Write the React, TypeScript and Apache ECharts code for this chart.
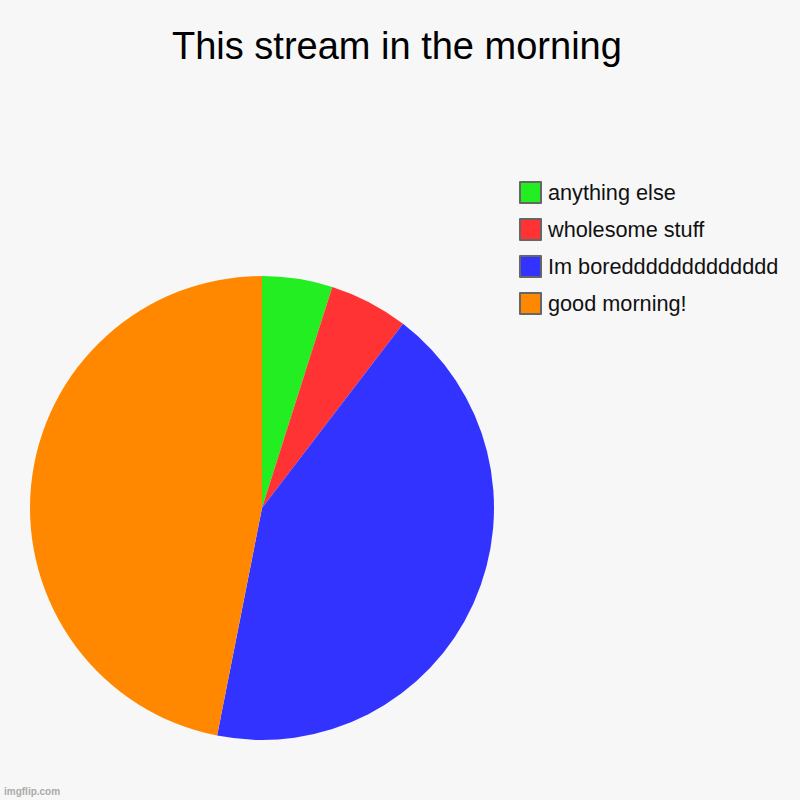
import React, { useEffect, useRef } from "react";
import * as echarts from "echarts";

const titleText = "This stream in the morning";
const categories = ["anything else", "wholesome stuff", "Im boreddddddddddddd", "good morning!"];
const values = [4.9, 5.5, 42.7, 46.9];
const colors = ["#22ee22", "#ff3333", "#3333ff", "#ff8800"];

export default function App() {
  const ref = useRef<HTMLDivElement>(null);
  useEffect(() => {
    if (!ref.current) return;
    const chart = echarts.init(ref.current, null, { renderer: "svg" });
    chart.setOption({
      animation: false,
      backgroundColor: "#f7f7f7",
      title: {
        text: titleText,
        left: 172,
        top: 27,
        padding: 0,
        textStyle: { fontFamily: "Liberation Sans, Arial, sans-serif", fontSize: 38, fontWeight: "normal", color: "#000" },
      },
      legend: {
        orient: "vertical",
        left: 519,
        top: 181,
        padding: 0,
        itemWidth: 21,
        itemHeight: 21,
        itemGap: 14,
        icon: "rect",
        data: categories,
        itemStyle: { borderColor: "#666666", borderWidth: 2 },
        textStyle: { fontFamily: "Liberation Sans, Arial, sans-serif", fontSize: 21.7, color: "#111", padding: [0, 0, 0, 2] },
        selectedMode: false,
      },
      graphic: [
        {
          type: "text",
          left: 4,
          top: 786,
          style: { text: "imgflip.com", fill: "#aaaaaa", font: "bold 10px Liberation Sans, Arial, sans-serif" },
        },
      ],
      series: [
        {
          type: "pie",
          center: [262, 508],
          radius: 232,
          startAngle: 90,
          clockwise: true,
          label: { show: false },
          labelLine: { show: false },
          silent: true,
          data: categories.map((name, i) => ({ name, value: values[i], itemStyle: { color: colors[i] } })),
        },
      ],
    });
    return () => chart.dispose();
  }, []);
  return <div ref={ref} style={{ position: "fixed", left: 0, top: 0, width: 800, height: 800 }} />;
}
